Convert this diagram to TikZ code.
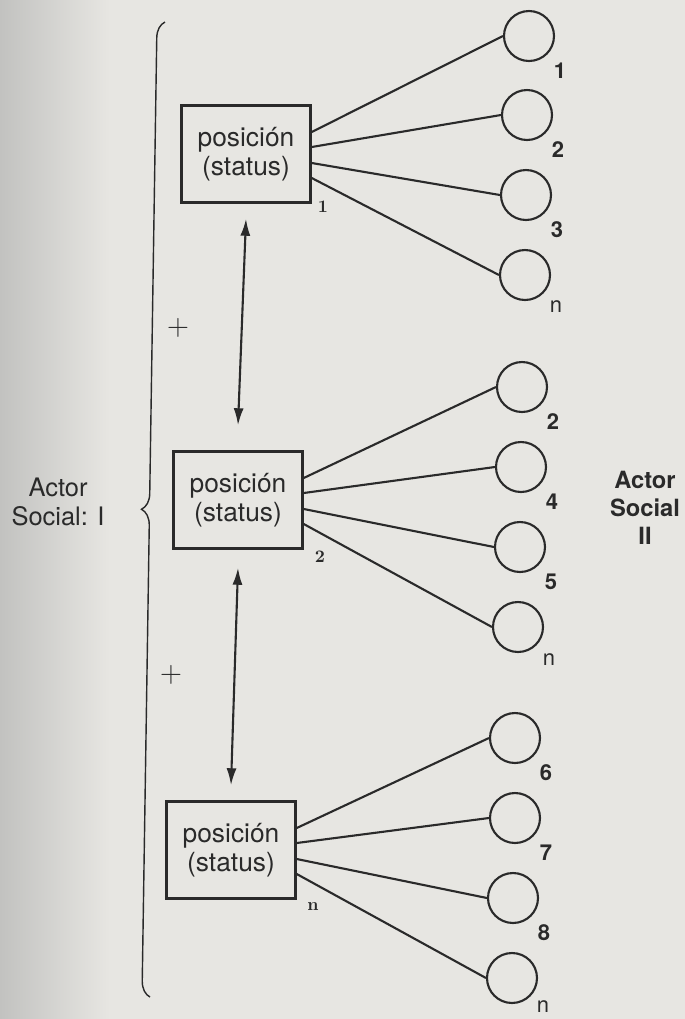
\documentclass[tikz,border=0pt]{standalone}
\usepackage{fontspec}
\setsansfont{TeX Gyre Heros}
\usepackage{tikz}
\usepackage{xcolor}
\usetikzlibrary{positioning, decorations.pathreplacing, arrows.meta}
\definecolor{paper}{HTML}{E7E6E2}
\definecolor{edge}{HTML}{C2C2C0}
\definecolor{ink}{HTML}{2A2A2A}

\begin{document}
\begin{tikzpicture}[x=0.02cm, y=-0.02cm,
	posbox/.style={draw=ink, line width=1.4pt, minimum width=2.58cm, minimum height=1.94cm, inner sep=0pt, align=center, text=ink, font=\sffamily\fontsize{15}{16.5}\selectfont},
	rolecirc/.style={draw=ink, line width=1.2pt, circle, minimum size=1cm, inner sep=0pt},
	rolenum/.style={text=ink, font=\sffamily\bfseries\fontsize{12.5}{14}\selectfont},
	posnum/.style={text=ink, font=\rmfamily\bfseries\fontsize{10}{11}\selectfont},
	link/.style={draw=ink, line width=1.2pt},
	twoway/.style={draw=ink, line width=1.2pt, {Latex[length=0.34cm,width=0.2cm]}-{Latex[length=0.34cm,width=0.2cm]}},
	actor/.style={align=center, text=ink, font=\sffamily\fontsize{14.5}{16.5}\selectfont},
	actorb/.style={align=center, text=ink, font=\sffamily\bfseries\fontsize{13.5}{15.8}\selectfont},
	plus/.style={text=ink, font=\fontsize{18}{18}\selectfont}]
				  \useasboundingbox (0,0) rectangle (685,1019);
				  \fill[paper] (0,0) rectangle (685,1019);
				  \shade[left color=edge, right color=paper] (0,0) rectangle (110,1019);
				  \node[posbox] (box1) at (246,154) {posición\\(status)};
				  \node[posbox] (box2) at (238,500) {posición\\(status)};
				  \node[posbox] (box3) at (231,850) {posición\\(status)};
				  \node[posnum] (s1) at (323,207) {1};
				  \node[posnum] (s2) at (320,557) {2};
				  \node[posnum] (s3) at (313,907) {n};
				  \foreach \n/\x/\y/\d/\t in {11/529/36/35/1, 12/527/115/35/2, 13/526/195/35/3, 14/525/275/32/{\mdseries n},
				  	21/522/387/35/2, 22/521/467/35/4, 23/520/547/35/5, 24/518/627/33/{\mdseries n},
				  	31/515/738/35/6, 32/515/818/35/7, 33/513/898/35/8, 34/512/978/29/{\mdseries n}}{
				  	\node[rolecirc] (c\n) at (\x,\y) {};
				  	\node[rolenum] (t\n) at ([shift={(31,\d)}]c\n.center) {\t};
				  }
				  \foreach \b in {1,2,3}
				  	\foreach \i/\s in {1/0.44,2/0.14,3/-0.18,4/-0.48}
				  		\draw[link] ([yshift=\s cm]box\b.east) -- (c\b\i.west);
				  \draw[twoway] ([yshift=-0.3cm]box1.south) -- ([yshift=0.5cm]box2.north);
				  \draw[twoway] ([yshift=-0.36cm]box2.south) -- ([yshift=0.3cm]box3.north);
				  \node[plus] (p1) at (178,328) {$+$};
				  \node[plus] (p2) at (171,675) {$+$};
				  \coordinate (bb) at (150,997);
				  \coordinate (bt) at (165,22);
				  \draw[ink, line width=0.8pt, decorate, decoration={brace, amplitude=0.32cm}] (bb) -- (bt);
				  \node[actor] (a1) at (58,502) {Actor\\Social: I};
				  \node[actorb] (a2) at (645,508) {Actor\\Social\\II};
				\end{tikzpicture}
\end{document}
